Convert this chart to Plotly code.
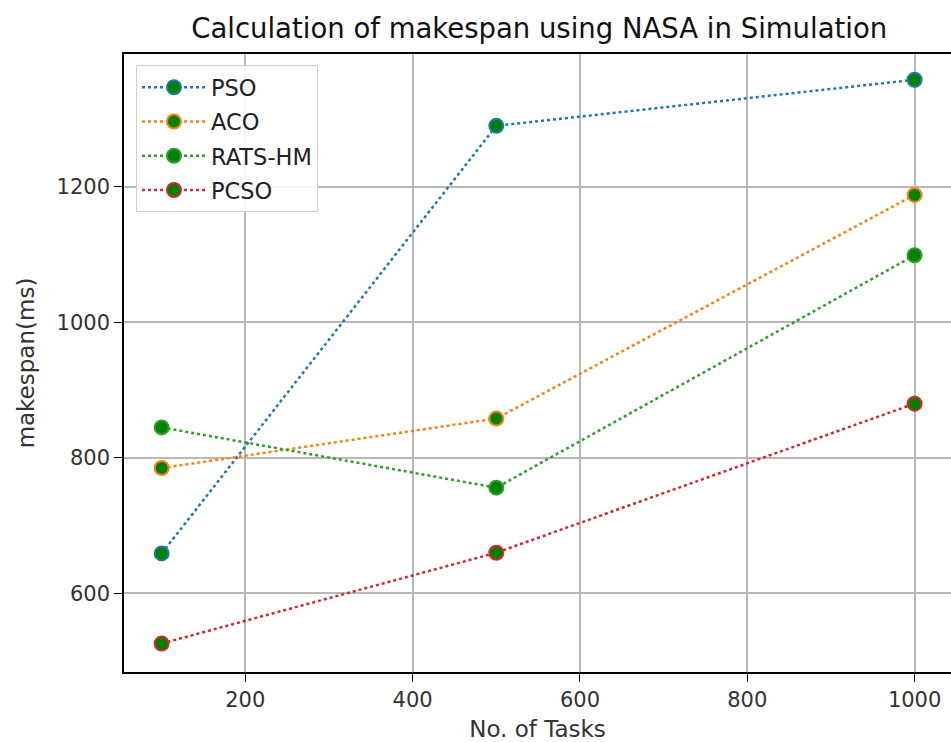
import plotly.graph_objects as go

tasks = [100, 500, 1000]
pso = [659, 1290, 1358]
aco = [785, 858, 1188]
rats_hm = [845, 756, 1099]
pcso = [526, 660, 880]

series = [
    ("PSO", pso, "#1f77b4"),
    ("ACO", aco, "#ff7f0e"),
    ("RATS-HM", rats_hm, "#2ca02c"),
    ("PCSO", pcso, "#d62728"),
]

fig = go.Figure()
for name, vals, col in series:
    fig.add_trace(go.Scatter(
        x=tasks, y=vals, name=name, mode="lines+markers", legendgroup=name,
        line=dict(color=col, width=2.5, dash="dot"),
        marker=dict(color="#008000", size=14, line=dict(color=col, width=2)),
    ))

font = "DejaVu Sans"
fig.update_layout(
    width=951, height=742,
    margin=dict(l=124, r=0, t=54, b=70),
    paper_bgcolor="white", plot_bgcolor="white",
    font=dict(family=font, size=21, color="#333"),
    title=dict(text="Calculation of makespan using NASA in Simulation",
               x=0.567, xanchor="center", y=0.962, yanchor="middle",
               font=dict(size=27.5, color="#111")),
    legend=dict(x=0.0145, y=0.982, xanchor="left", yanchor="top",
                bordercolor="#d0d0d0", borderwidth=1, bgcolor="rgba(255,255,255,0.85)",
                font=dict(size=22.5, color="#222"), itemwidth=64, tracegroupgap=2),
    showlegend=True,
)
fig.update_xaxes(
    range=[55, 1043.5], tickvals=[200, 400, 600, 800, 1000],
    showgrid=True, gridcolor="#b8b8b8", gridwidth=1.5,
    showline=True, linecolor="black", linewidth=1.5, mirror=True,
    ticks="outside", ticklen=8, tickcolor="black", zeroline=False,
    automargin=False,
    title=dict(text="No. of Tasks", font=dict(size=23), standoff=12),
)
fig.update_yaxes(
    range=[484, 1396], tickvals=[600, 800, 1000, 1200],
    showgrid=True, gridcolor="#b8b8b8", gridwidth=1.5,
    showline=True, linecolor="black", linewidth=1.5, mirror=False,
    ticks="outside", ticklen=8, tickcolor="black", zeroline=False,
    automargin=False,
    title=dict(text="makespan(ms)", font=dict(size=23), standoff=16),
)
fig.write_html(
    "out.html",
    config={"displayModeBar": False},
    post_script="document.body.style.margin='0';document.body.style.overflow='hidden';",
)
